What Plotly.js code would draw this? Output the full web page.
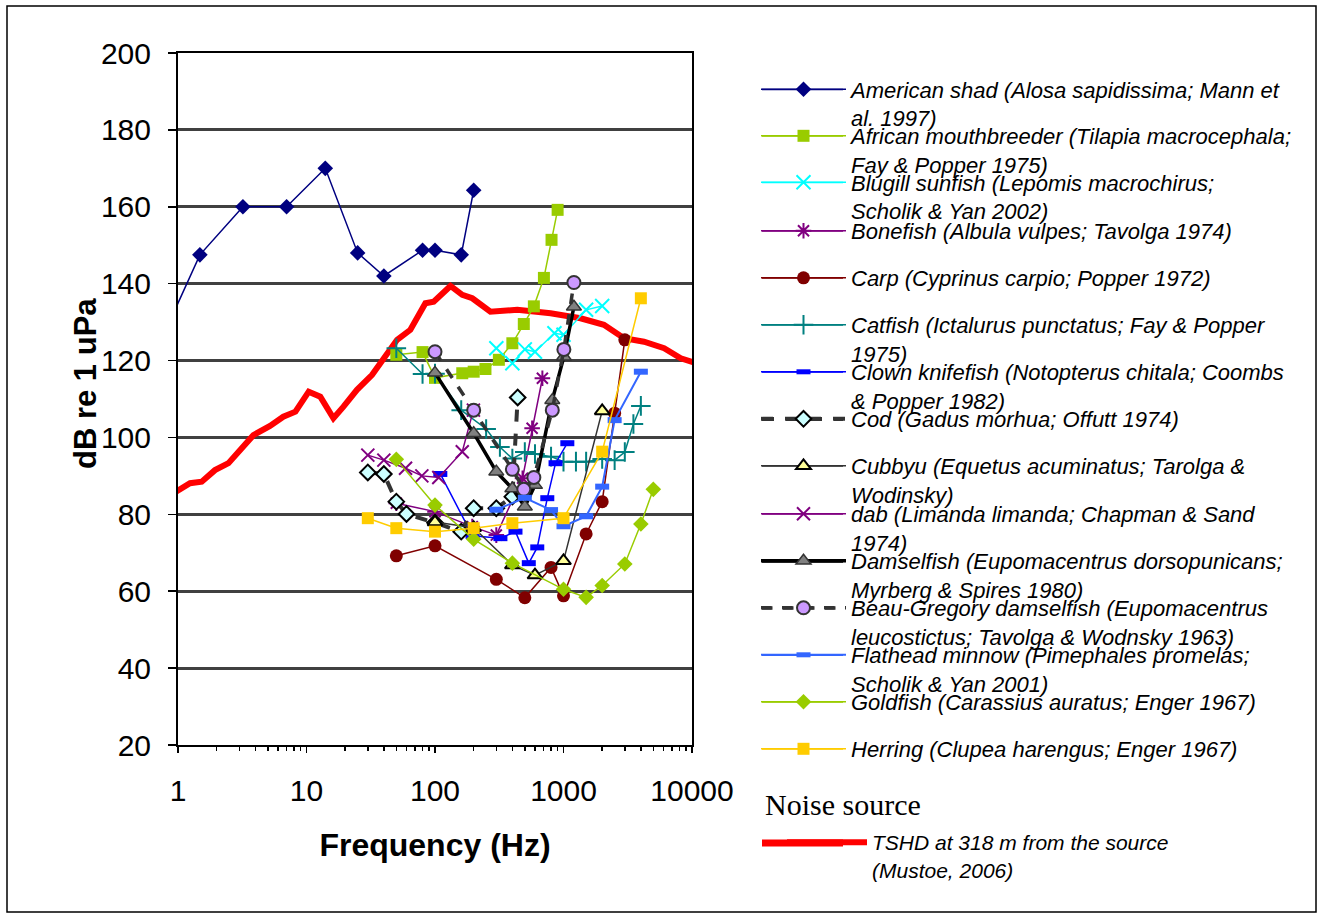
<!DOCTYPE html>
<html><head><meta charset="utf-8">
<script src="https://cdn.plot.ly/plotly-3.0.1.min.js"></script>
<style>body{margin:0;background:#fff}#chart{width:1320px;height:917px}</style>
</head><body><div id="chart"></div>
<script>
// ---------------- DATA ----------------
const tshdHz = [0.9,1.24,1.53,1.94,2.47,3.14,3.86,5.2,6.6,8.2,10.4,12.8,16.2,19.4,24.7,32.4,39.8,50.7,64.3,84.2,97.7,132,163,195,270,437,793,1357,2063,2956,4232,6067,8180,11710];
const tshdDb = [85.3,88.1,88.5,91.5,93.3,97.2,100.6,103,105.4,106.7,111.9,110.6,105,108,112.4,116.3,120.2,125.4,128,134.9,135.3,139.4,137.1,136.2,132.7,133.2,132.3,131,129.3,125.8,124.9,123.2,120.6,118.9];

const shadHz = [0.87,1.48,3.2,7,14,25,40,80,100,160,200];
const shadDb = [130.5,147.5,160,160,170,148,142,148.7,148.7,147.5,164.3];
const mouthHz = [50,80,100,163,200,247,314,400,491,588,704,807,900];
const mouthDb = [121.5,122.2,115.5,116.7,117.1,117.8,120.2,124.5,129.5,134.1,141.5,151.4,159.2];
const bluegillHz = [300,400,500,600,850,1000,1500,2000];
const bluegillDb = [123.2,119.3,122.9,122.3,127.1,126.7,133.2,134.2];
const bonefishHz = [50,100,195,300,480,570,685];
const bonefishDb = [82.9,80.7,76.8,74.6,89.4,102.4,115.4];
const carpHz = [50,100,300,500,800,1000,1500,2000,2500,3000];
const carpDb = [69.2,71.8,63.1,58.3,66.2,58.8,74.9,83.3,106.3,125.4];
const catfishHz = [50,80,100,160,250,320,400,500,600,800,1000,1250,1500,2000,2500,3000,3500,4000];
const catfishDb = [123.2,116.5,116.6,107.1,102.2,97.5,94.5,96.2,95.7,95,93.7,93.7,93.7,94.4,94.1,96.2,103.5,108.2];
const clownHz = [110,196,323,423,537,625,748,867,1071];
const clownDb = [90.5,74.4,73.8,75.5,67.3,71.4,84.2,93.3,98.5];
const codHz = [30,40,50,60,100,160,200,300,400,440];
const codDb = [90.9,90.5,83.3,80.1,77.8,75.5,81.6,81.6,84.6,110.4];
const cubbyuHz = [100,200,400,600,1000,2000];
const cubbyuDb = [78,76.5,66.8,64.2,67.9,106.9];
const dabHz = [30,40,59,79,107,163,199];
const dabDb = [95.4,94.1,92,90,89.6,96.3,107.1];
const damselHz = [100,200,300,400,500,600,818,1007,1205];
const damselDb = [116.8,101.1,91.1,86.7,82,87.6,109.7,121,134];
const beauHz = [100,200,400,491,588,818,1007,1205];
const beauDb = [122.3,107.1,91.7,86.5,89.6,107.1,122.9,140.3];
const flatheadHz = [300,500,800,1000,1500,2000,2500,4000];
const flatheadDb = [81.2,84.3,81.1,76.9,79.5,87.2,104.5,117.1];
const goldfishHz = [50,100,200,400,1000,1500,2000,3000,4000,5000];
const goldfishDb = [94.3,82.4,73.5,67.3,60.5,58.4,61.5,67.1,77.5,86.5];
const herringHz = [30,50,100,200,400,1000,2000,4000];
const herringDb = [79,76.4,75.5,76.4,77.7,79,96.3,136.2];

const seriesNames = [
  ["American shad (Alosa sapidissima; Mann et","al. 1997)"],
  ["African mouthbreeder (Tilapia macrocephala;","Fay & Popper 1975)"],
  ["Blugill sunfish (Lepomis macrochirus;","Scholik & Yan 2002)"],
  ["Bonefish (Albula vulpes; Tavolga 1974)"],
  ["Carp (Cyprinus carpio; Popper 1972)"],
  ["Catfish (Ictalurus punctatus; Fay & Popper","1975)"],
  ["Clown knifefish (Notopterus chitala; Coombs","& Popper 1982)"],
  ["Cod (Gadus morhua; Offutt 1974)"],
  ["Cubbyu (Equetus acuminatus; Tarolga &","Wodinsky)"],
  ["dab (Limanda limanda; Chapman & Sand","1974)"],
  ["Damselfish (Eupomacentrus dorsopunicans;","Myrberg & Spires 1980)"],
  ["Beau-Gregory damselfish (Eupomacentrus","leucostictus; Tavolga & Wodnsky 1963)"],
  ["Flathead minnow (Pimephales promelas;","Scholik & Yan 2001)"],
  ["Goldfish (Carassius auratus; Enger 1967)"],
  ["Herring (Clupea harengus; Enger 1967)"]
];
const seriesX = [shadHz,mouthHz,bluegillHz,bonefishHz,carpHz,catfishHz,clownHz,codHz,cubbyuHz,dabHz,damselHz,beauHz,flatheadHz,goldfishHz,herringHz];
const seriesY = [shadDb,mouthDb,bluegillDb,bonefishDb,carpDb,catfishDb,clownDb,codDb,cubbyuDb,dabDb,damselDb,beauDb,flatheadDb,goldfishDb,herringDb];
const tshdName = ["TSHD at 318 m from the source","(Mustoe, 2006)"];
const xTickVals = [1,10,100,1000,10000];
const xTickText = ["1","10","100","1000","10000"];

// ---------------- STYLES ----------------
const styles = [
  {lc:'#000080', lw:1.5, dash:'solid', sym:'diamond', ms:12, mc:'#000080', mlc:'#000080', mlw:0},
  {lc:'#99CC00', lw:1.5, dash:'solid', sym:'square', ms:12, mc:'#99CC00', mlc:'#99CC00', mlw:0},
  {lc:'#00FFFF', lw:1.5, dash:'solid', sym:'x-thin-open', ms:14, mc:'#00FFFF', mlc:'#00FFFF', mlw:2},
  {lc:'#800080', lw:1.5, dash:'solid', sym:'asterisk-open', ms:13, mc:'#800080', mlc:'#800080', mlw:2},
  {lc:'#800000', lw:1.5, dash:'solid', sym:'circle', ms:13, mc:'#800000', mlc:'#800000', mlw:0},
  {lc:'#008080', lw:1.5, dash:'solid', sym:'cross-thin-open', ms:14, mc:'#008080', mlc:'#008080', mlw:2},
  {lc:'#0000FF', lw:1.5, dash:'solid', sym:'line-ew-open', ms:10, mc:'#0000FF', mlc:'#0000FF', mlw:6},
  {lc:'#333333', lw:4, dash:'dash', sym:'diamond', ms:12, mc:'#CCFFFF', mlc:'#000000', mlw:2},
  {lc:'#333333', lw:1.5, dash:'solid', sym:'triangle-up', ms:13, mc:'#FFFF99', mlc:'#000000', mlw:2},
  {lc:'#800080', lw:1.5, dash:'solid', sym:'x-thin-open', ms:13, mc:'#800080', mlc:'#800080', mlw:2},
  {lc:'#000000', lw:3.5, dash:'solid', sym:'triangle-up', ms:13, mc:'#808080', mlc:'#333333', mlw:1.5},
  {lc:'#333333', lw:3.5, dash:'dash', sym:'circle', ms:13, mc:'#CC99FF', mlc:'#333333', mlw:2},
  {lc:'#3366FF', lw:2, dash:'solid', sym:'line-ew-open', ms:10, mc:'#3366FF', mlc:'#3366FF', mlw:6},
  {lc:'#99CC00', lw:1.5, dash:'solid', sym:'diamond', ms:12, mc:'#99CC00', mlc:'#99CC00', mlw:0},
  {lc:'#FFCC00', lw:1.5, dash:'solid', sym:'square', ms:12, mc:'#FFCC00', mlc:'#FFCC00', mlw:0}
];

// ---------------- LAYOUT GEOMETRY ----------------
const W=1320, H=917, PL=178, PR=692, PT=53, PB=745;
const pw = PR-PL, ph = PB-PT;
const pX = px => (px-PL)/pw;
const pY = py => (PB-py)/ph;
const legendRows = [89.5,136,182.5,231,278,325,372,419,466,514,561,608,655,702,749];
const FONT = 'Liberation Sans, Arial, sans-serif';
const LEG_TOP_OFFSET = 21;

const traces = [];
const layout = {
  width: W, height: H,
  margin: {l:PL, r:W-PR, t:PT, b:H-PB, autoexpand:false},
  paper_bgcolor:'#ffffff', plot_bgcolor:'#ffffff',
  font: {family: FONT, color:'#000'},
  showlegend: true,
  xaxis: {
    type:'log', range:[0,4], tickmode:'array', tickvals:xTickVals, ticktext:xTickText,
    ticks:'outside', ticklen:6, tickwidth:1.5, tickcolor:'#000',
    showline:true, linecolor:'#000', linewidth:2, mirror:true,
    showgrid:false, zeroline:false,
    tickfont:{size:30, family:FONT, color:'#000'}, ticklabelstandoff:12,
    minor:{ticks:'outside', ticklen:4, tickcolor:'#000', dtick:'D1', showgrid:false},
    title:{text:'<b>Frequency (Hz)</b>', font:{size:32, family:FONT, color:'#000'}, standoff:28}
  },
  yaxis: {
    range:[20,200], dtick:20, tick0:20,
    ticks:'outside', ticklen:8, tickwidth:1.5, tickcolor:'#000',
    showline:true, linecolor:'#000', linewidth:2, mirror:true,
    showgrid:true, gridcolor:'#404040', gridwidth:3, zeroline:false,
    tickfont:{size:30, family:FONT, color:'#000'}, ticklabelstandoff:11
  },
  shapes: [
    {type:'rect', xref:'paper', yref:'paper', x0:pX(7), x1:pX(1316), y0:pY(912), y1:pY(6),
     line:{color:'#000', width:1.5}, fillcolor:'rgba(0,0,0,0)', layer:'below'}
  ],
  annotations: [
    {text:'<b>dB re 1 uPa</b>', xref:'paper', yref:'paper', x:pX(85), y:pY(384), xanchor:'center', yanchor:'middle',
     textangle:-90, showarrow:false, font:{family:FONT, size:31, color:'#000'}},
    {text:'Noise source', xref:'paper', yref:'paper', x:pX(763), y:pY(805), xanchor:'left', yanchor:'middle',
     showarrow:false, font:{family:'Liberation Serif, Times New Roman, serif', size:30, color:'#000'}}
  ]
};

function legendSpec(yRow, itemwidth, left){
  return {x:pX(left), y:pY(yRow - LEG_TOP_OFFSET), xanchor:'left', yanchor:'top',
          bgcolor:'rgba(0,0,0,0)', borderwidth:0, itemwidth:itemwidth, valign:'top',
          font:{family:FONT, size:22, color:'#000'}, itemclick:false, itemdoubleclick:false};
}

// noise source first (drawn underneath the fish audiograms)
traces.push({
  x: tshdHz, y: tshdDb, type:'scatter', mode:'lines',
  name: tshdName.map(s=>'<i>'+s+'</i>').join('<br>'),
  line:{color:'#FF0000', width:6}, legend:'legend16'
});
layout['legend16'] = legendSpec(843, 80, 782);
layout.legend16.font.size = 21;
layout.shapes.push({type:'line', xref:'paper', yref:'paper', x0:pX(762), x1:pX(843), y0:pY(843), y1:pY(843),
  line:{color:'#FF0000', width:7}});

seriesNames.forEach((nm,i)=>{
  const s = styles[i];
  const lid = i===0 ? 'legend' : 'legend'+(i+1);
  traces.push({
    x: seriesX[i], y: seriesY[i], type:'scatter', mode:'lines+markers',
    name: nm.map(t=>'<i>'+t+'</i>').join('<br>'),
    legend: lid,
    line:{color:s.lc, width:s.lw, dash:s.dash},
    marker:{symbol:s.sym, size:s.ms, color:s.mc, line:{color:s.mlc, width:s.mlw}}
  });
  layout[lid] = legendSpec(legendRows[i], 85, 756);
  layout.shapes.push({type:'line', xref:'paper', yref:'paper', x0:pX(762), x1:pX(843),
    y0:pY(legendRows[i]), y1:pY(legendRows[i]), line:{color:s.lc, width:s.lw, dash:s.dash}});
});

Plotly.newPlot('chart', traces, layout, {staticPlot:true, displayModeBar:false});
</script></body></html>
